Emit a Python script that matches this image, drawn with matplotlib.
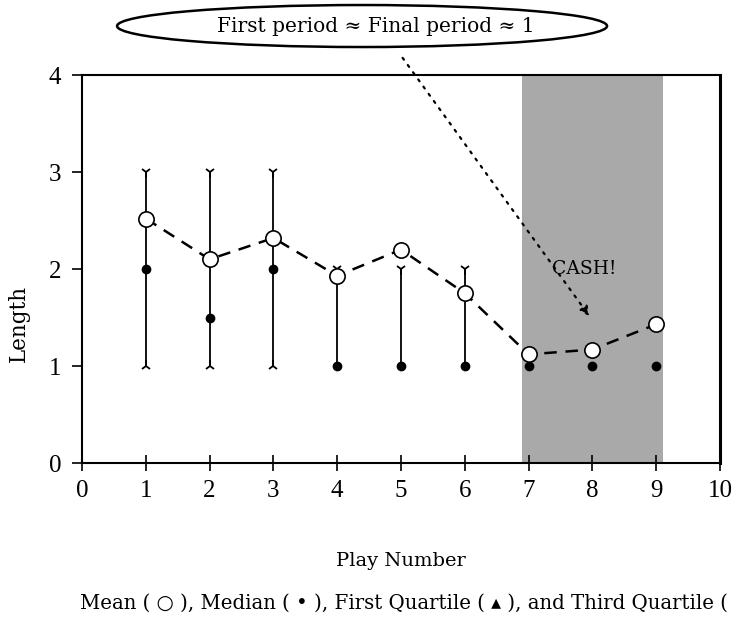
from matplotlib import pyplot as plt
from matplotlib.patches import Ellipse

plt.rcParams['font.family'] = ['DejaVu Serif', 'DejaVu Sans']
tick_font = 'Liberation Serif'

plays = [1, 2, 3, 4, 5, 6, 7, 8, 9]
mean = [2.52, 2.10, 2.32, 1.93, 2.20, 1.75, 1.12, 1.17, 1.43]
median = [2, 1.5, 2, 1, 1, 1, 1, 1, 1]
q1 = [1, 1, 1, 1, 1, 1, 1, 1, 1]
q3 = [3, 3, 3, 2, 2, 2, 1, 1, 1]
cash_span = (6.9, 9.1)

fig = plt.figure(figsize=(7.34, 6.22), dpi=100)
ax = fig.add_axes([0.1117, 0.2556, 0.8692, 0.6238])

ax.axvspan(cash_span[0], cash_span[1], color='#a9a9a9', zorder=0, lw=0)

# quartile range lines
ax.vlines(plays, q1, q3, color='black', lw=1.3, zorder=2)
ax.plot(plays[:6], q3[:6], ls='none', marker='1', ms=8, mew=1.3, color='black', zorder=3)
ax.plot(plays[:3], q1[:3], ls='none', marker='2', ms=8, mew=1.3, color='black', zorder=3)
ax.plot(plays, median, ls='none', marker='o', ms=6, color='black', zorder=3)
ax.plot(plays, mean, ls=(0, (5, 3.5)), lw=1.8, color='black', zorder=4)
ax.plot(plays, mean, ls='none', marker='o', ms=11, mfc='white', mec='black', mew=1.2, zorder=5)

ax.set_xlim(0, 10)
ax.set_ylim(0, 4)
ax.set_xticks(range(11))
ax.set_yticks(range(5))
ax.tick_params(axis='x', direction='inout', length=12, width=1.2, labelsize=18, pad=6)
ax.tick_params(axis='y', direction='out', length=7, width=1.2, labelsize=18, pad=8)
for lab in ax.get_xticklabels() + ax.get_yticklabels():
    lab.set_family(tick_font)
for s in ax.spines.values():
    s.set_linewidth(1.5)
ax.spines['right'].set_linewidth(2.2)

ax.set_ylabel('Length', fontsize=15.5)
ax.yaxis.set_label_coords(-0.082, 0.36)
ax.set_xlabel('Play Number', fontsize=14, labelpad=36)

ax.text(7.87, 2.0, 'CASH!', fontsize=13.5, ha='center', va='center', zorder=6)

# callout
ax.add_patch(Ellipse((4.39, 4.505), 7.68, 0.433, fill=False, lw=1.8, color='black',
                     transform=ax.transData, clip_on=False, zorder=6))
ax.text(4.6, 4.505, 'First period ≈ Final period ≈ 1', fontsize=14.5,
        ha='center', va='center', clip_on=False, zorder=7)
ax.annotate('', xy=(7.98, 1.49), xytext=(5.0, 4.2),
            arrowprops=dict(arrowstyle='-|>', ls=(0, (1, 3)), lw=1.6, color='black',
                            mutation_scale=14), annotation_clip=False, zorder=6)

fig.text(0.109, 0.022, 'Mean ( ○ ), Median ( • ), First Quartile ( ▴ ), and Third Quartile (',
         fontsize=14.2, ha='left', va='baseline')

fig.savefig('out.png', dpi=100)
